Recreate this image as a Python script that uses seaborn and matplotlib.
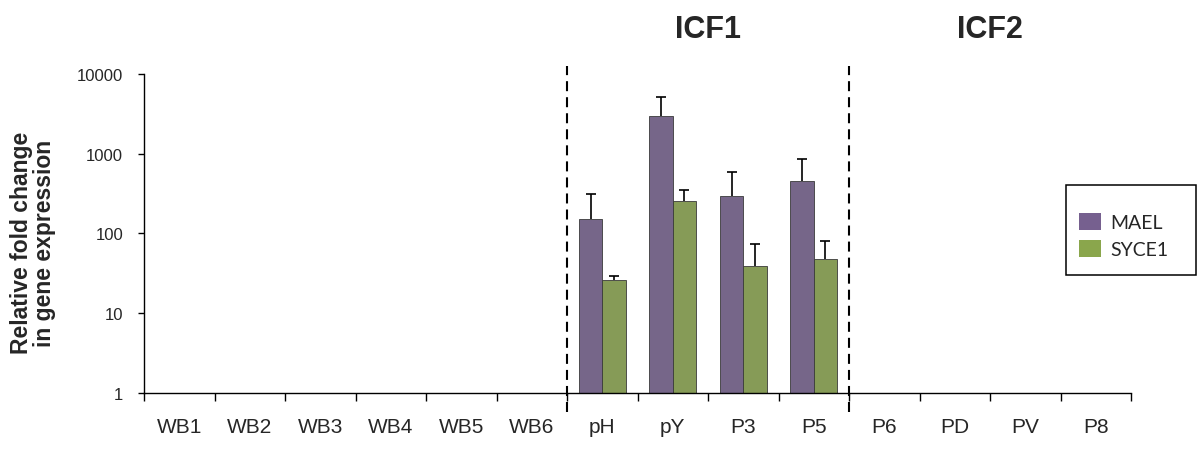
import matplotlib
matplotlib.use("Agg")
import matplotlib.pyplot as plt
import matplotlib.transforms as mtransforms
from matplotlib.patches import Patch, Rectangle
from matplotlib.ticker import FixedLocator, FuncFormatter, NullLocator
import numpy as np
import pandas as pd
import seaborn as sns

samples = ["WB1", "WB2", "WB3", "WB4", "WB5", "WB6",
           "pH", "pY", "P3", "P5", "P6", "PD", "PV", "P8"]
mael = [1, 1, 1, 1, 1, 1, 150, 2950, 295, 450, 1, 1, 1, 1]
mael_err = [0, 0, 0, 0, 0, 0, 160, 2150, 300, 415, 0, 0, 0, 0]
syce1 = [1, 1, 1, 1, 1, 1, 26, 258, 39, 48, 1, 1, 1, 1]
syce1_err = [0, 0, 0, 0, 0, 0, 3, 96, 35, 33, 0, 0, 0, 0]
genes = ["MAEL", "SYCE1"]
colors = ["#76608F", "#8AA64C"]
groups = [("ICF1", 7.5), ("ICF2", 11.5)]
y_ticks = [1, 10, 100, 1000, 10000]

sns.set_style("white")
plt.rcParams["font.family"] = ["Liberation Sans", "DejaVu Sans"]

df = pd.DataFrame({
    "sample": samples * 2,
    "value": mael + syce1,
    "gene": ["MAEL"] * len(samples) + ["SYCE1"] * len(samples),
})

fig = plt.figure(figsize=(12, 4.52), dpi=100)
ax = fig.add_axes([0.12, 0.1283, 0.8225, 0.7058])

sns.barplot(data=df, x="sample", y="value", hue="gene", order=samples,
            hue_order=genes, palette=colors, width=0.66, gap=0,
            errorbar=None, edgecolor="#3a3a3a", linewidth=0.6, ax=ax)
ax.set_yscale("log")
ax.set_ylim(1, 10000)
ax.set_xlim(-0.5, len(samples) - 0.5)

# one-sided error bars (upper cap only)
for cont, errs in zip(ax.containers, [mael_err, syce1_err]):
    for patch, e in zip(cont.patches, errs):
        if e <= 0:
            continue
        xc = patch.get_x() + patch.get_width() / 2
        top = patch.get_height()
        eb = ax.errorbar([xc], [top], yerr=[[0], [e]], fmt="none",
                         ecolor="black", elinewidth=1.2, capsize=3.3,
                         capthick=1.2, zorder=0.5)
        for cap in eb.lines[1]:
            if np.allclose(cap.get_ydata(), top):
                cap.remove()

for sp in ["top", "right"]:
    ax.spines[sp].set_visible(False)
for sp in ["left", "bottom"]:
    ax.spines[sp].set_color("black")
    ax.spines[sp].set_linewidth(1.0)
    ax.spines[sp].set_zorder(3)

ax.yaxis.set_major_locator(FixedLocator(y_ticks))
ax.yaxis.set_minor_locator(NullLocator())
ax.yaxis.set_major_formatter(FuncFormatter(lambda v, p: f"{int(v)}"))
ax.tick_params(axis="y", which="major", direction="out", length=4, width=1,
               color="black", labelsize=12, pad=11, left=True)

ax.xaxis.set_minor_locator(FixedLocator(np.arange(-0.5, len(samples), 1.0)))
ax.tick_params(axis="x", which="major", length=0, labelsize=15, pad=17)
ax.tick_params(axis="x", which="minor", direction="out", length=6, width=1,
               color="black", bottom=True)
ax.set_xlabel("")
ax.set_ylabel("")

for xpos in [5.5, 9.5]:
    ax.plot([xpos, xpos], [-0.06, 1.025], transform=ax.get_xaxis_transform(),
            clip_on=False, color="black", lw=1.5, ls=(0, (4.8, 2.9)), zorder=5)

blend = mtransforms.blended_transform_factory(ax.transData, fig.transFigure)
for name, xpos in groups:
    ax.text(xpos, 0.9336, name, transform=blend, ha="center", va="center",
            fontsize=22, fontweight="bold")

fig.text(0.0275, 0.4624, "Relative fold change\nin gene expression",
         rotation=90, ha="center", va="center", multialignment="center",
         fontsize=16.5, fontweight="bold", linespacing=0.95)

# legend box
ax.get_legend().remove()
fig.patches.append(Rectangle((0.8883, 0.3894), 0.1083, 0.199,
                             transform=fig.transFigure, fill=False,
                             edgecolor="black", linewidth=1.1))
handles = [Patch(facecolor=c, edgecolor="none") for c in colors]
fig.legend(handles, genes, loc="upper left", bbox_to_anchor=(0.8992, 0.5265),
           bbox_transform=fig.transFigure, frameon=False, borderpad=0,
           borderaxespad=0, handlelength=1.13, handleheight=0.98,
           handletextpad=0.5, labelspacing=0.44,
           prop={"family": ["Lato", "DejaVu Sans"], "size": 14})

fig.savefig("out.png", dpi=100)
